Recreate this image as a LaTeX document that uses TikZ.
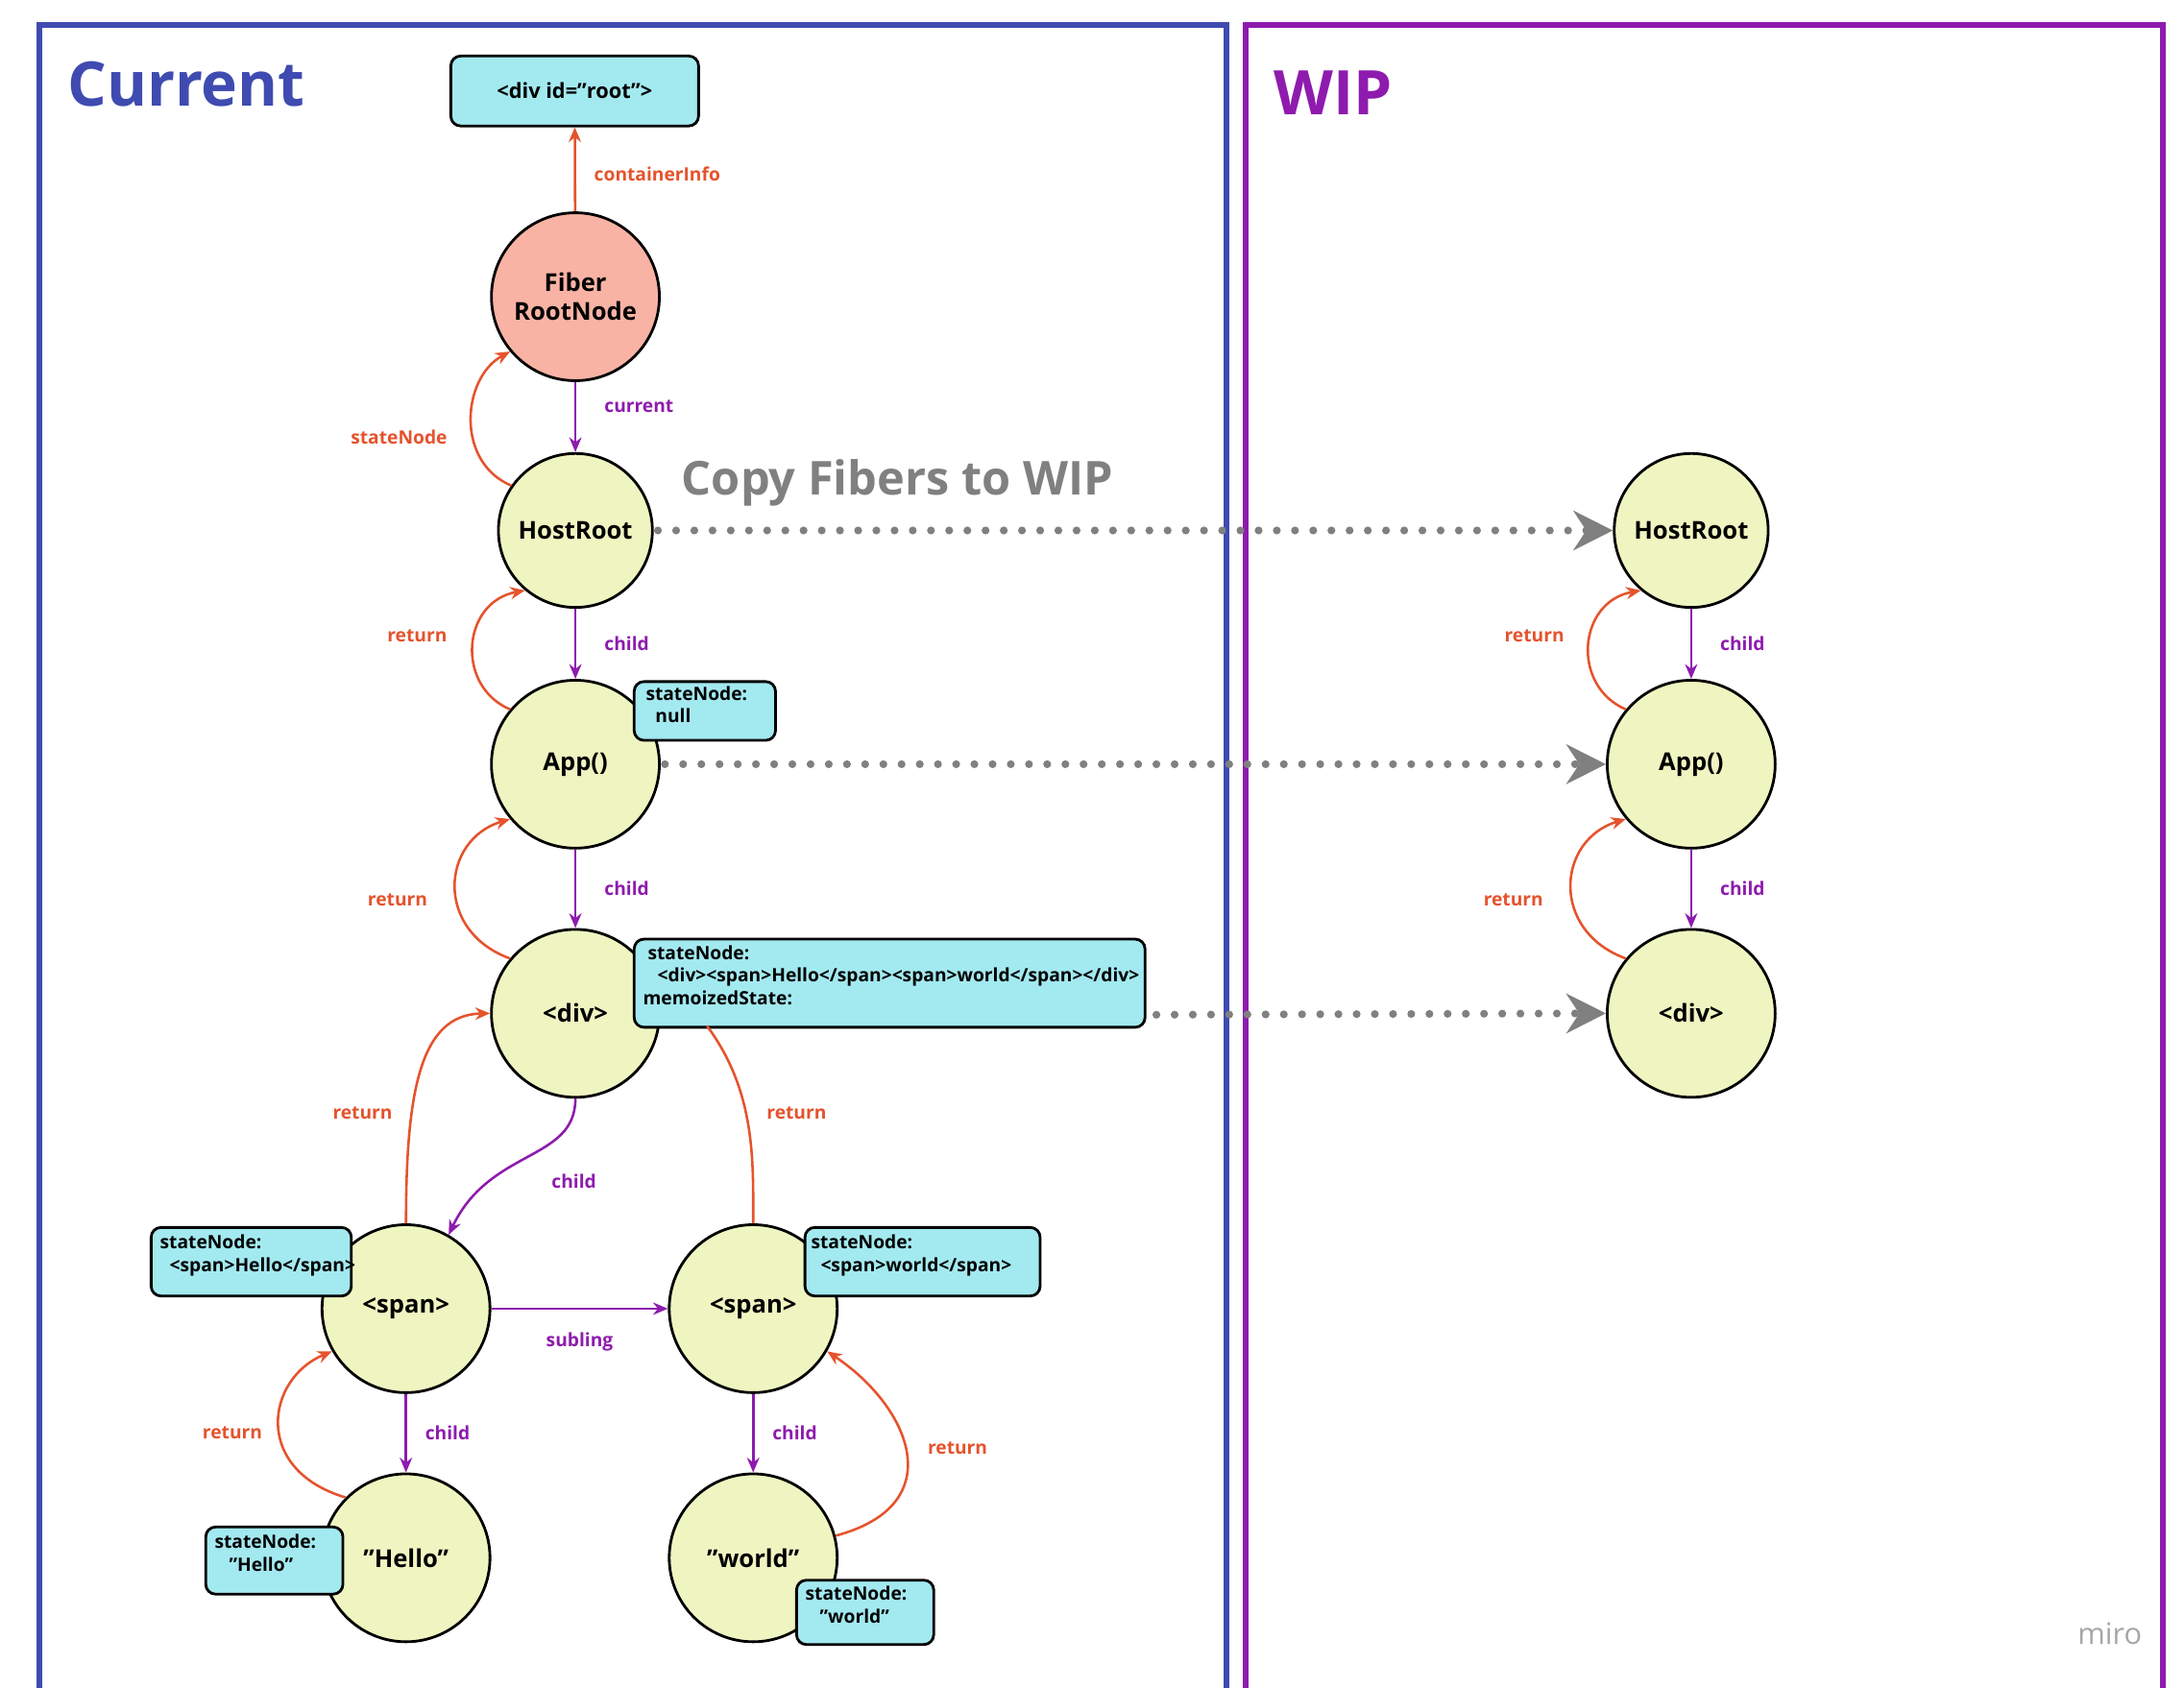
\documentclass[tikz,border=0pt]{standalone}
\usepackage{fontspec}
\setmainfont{Open Sans}
\usetikzlibrary{arrows.meta}
\definecolor{cblue}{HTML}{3F4BB0}
\definecolor{cpurp}{HTML}{8E1BAE}
\definecolor{cred}{HTML}{E5532D}
\definecolor{ccyan}{HTML}{A3E9F0}
\definecolor{cpink}{HTML}{F8B3A5}
\definecolor{cyel}{HTML}{EFF5C1}
\definecolor{cgray}{HTML}{808080}
\newcommand{\dq}{\symbol{34}}
\begin{document}
\begin{tikzpicture}[x=0.02cm,y=-0.02cm,
  fib/.style={circle,draw=black,line width=1.1pt,fill=cyel,minimum size=2.4cm,inner sep=0pt,font=\bfseries\fontsize{10}{12}\selectfont,align=center},
  box/.style={rectangle,rounded corners=4pt,draw=black,line width=1.1pt,fill=ccyan,font=\bfseries\fontsize{7.5}{9}\selectfont,align=left,anchor=north west,inner sep=0pt},
  ch/.style={draw=cpurp,line width=1pt,-{Stealth[length=6pt,width=5pt]}},
  rt/.style={draw=cred,line width=1pt,-{Stealth[length=6pt,width=5pt]}},
  pl/.style={text=cpurp,font=\bfseries\fontsize{7.5}{9}\selectfont},
  rl/.style={text=cred,font=\bfseries\fontsize{7.5}{9}\selectfont},
  dots/.style={draw=cgray,line width=3.2pt,line cap=round,dash pattern=on 0pt off 7.4pt,-{Stealth[length=16pt,width=16pt,line cap=butt]}}]
\useasboundingbox[fill=white] (0,0) rectangle (1560,1206);
\draw[cblue,line width=2.3pt] (28,18) rectangle (876,1208);
\draw[cpurp,line width=2.3pt] (890,18) rectangle (1545,1208);
\node[text=cblue,font=\bfseries\fontsize{25}{28}\selectfont,anchor=west] (tc) at (42,60) {Current};
\node[text=cpurp,font=\bfseries\fontsize{25}{28}\selectfont,anchor=west] (tw) at (904,66) {WIP};
\node[text=cgray!70,font=\fontsize{12}{14}\selectfont] (miro) at (1507,1167) {miro};
\node[text=cgray,font=\bfseries\fontsize{19}{22}\selectfont] (copy) at (641,345) {Copy Fibers to WIP};

\node[box,minimum width=3.54cm,minimum height=1cm,anchor=center,align=center,font=\bfseries\fontsize{8.5}{10}\selectfont] (root) at (410.5,65) {<div id=\dq root\dq>};
\node[fib,fill=cpink] (frn) at (411,212) {Fiber\\RootNode};
\node[fib,minimum size=2.2cm] (hr) at (411,379) {HostRoot};
\node[fib] (app) at (411,546) {App()};
\node[fib] (div) at (411,724) {<div>};
\node[fib] (s1) at (290,935) {<span>};
\node[fib] (s2) at (538,935) {<span>};
\node[fib] (he) at (290,1113) {\dq Hello\dq};
\node[fib] (wo) at (538,1113) {\dq world\dq};
\node[fib,minimum size=2.2cm] (whr) at (1208,379) {HostRoot};
\node[fib] (wapp) at (1208,546) {App()};
\node[fib] (wdiv) at (1208,724) {<div>};

\node[box,minimum width=2.02cm,minimum height=0.84cm] (bnull) at (452,486) {};
\node[anchor=north west,font=\bfseries\fontsize{7.5}{9}\selectfont,align=left,inner sep=0pt] at (461,490) {stateNode:\\\ \ null};
\node[box,minimum width=7.3cm,minimum height=1.26cm] (bdiv) at (452,670) {};
\node[anchor=north west,font=\bfseries\fontsize{7.5}{9.2}\selectfont,align=left,inner sep=0pt] at (459,675) {\ stateNode:\\\ \ \ <div><span>Hello</span><span>world</span></div>\\memoizedState:};
\node[box,minimum width=2.86cm,minimum height=0.98cm] (bs1) at (107,876) {};
\node[anchor=north west,font=\bfseries\fontsize{7.5}{9.2}\selectfont,align=left,inner sep=0pt] at (114,882) {stateNode:\\\ \ <span>Hello</span>};
\node[box,minimum width=3.36cm,minimum height=0.98cm] (bs2) at (574,876) {};
\node[anchor=north west,font=\bfseries\fontsize{7.5}{9.2}\selectfont,align=left,inner sep=0pt] at (579,882) {stateNode:\\\ \ <span>world</span>};
\node[box,minimum width=1.96cm,minimum height=0.96cm] (bhe) at (146,1090) {};
\node[anchor=north west,font=\bfseries\fontsize{7.5}{9.2}\selectfont,align=left,inner sep=0pt] at (153,1096) {stateNode:\\\ \ \ \dq Hello\dq};
\node[box,minimum width=1.96cm,minimum height=0.92cm] (bwo) at (568,1128) {};
\node[anchor=north west,font=\bfseries\fontsize{7.5}{9.2}\selectfont,align=left,inner sep=0pt] at (575,1133) {stateNode:\\\ \ \ \dq world\dq};
\coordinate (dstart) at (826,725);

\draw[rt] (frn) -- (root) node[pos=0.45,right=4pt,rl]{containerInfo};
\draw[ch] (frn) -- (hr) node[pos=0.35,right=8pt,pl]{current};
\draw[rt] (hr.145) .. controls (325,330) and (330,270) .. (frn.-140);
\node[rl] at (285,312) {stateNode};
\draw[ch] (hr) -- (app) node[midway,right=8pt,pl]{child};
\draw[rt] (app.140) .. controls (325,490) and (330,430) .. (hr.-130);
\node[rl] at (298,454) {return};
\draw[ch] (app) -- (div) node[midway,right=8pt,pl]{child};
\draw[rt] (div.140) .. controls (310,665) and (315,600) .. (app.-140);
\node[rl] at (284,643) {return};
\draw[ch] (div.-90) .. controls (411,830) and (350,820) .. (s1.60);
\node[pl] at (410,844) {child};
\draw[rt] (s1.90) .. controls (290,780) and (300,725) .. (div.180);
\node[rl] at (259,795) {return};
\draw[cred,line width=1pt] (505,733) .. controls (540,780) and (538,830) .. (s2.90);
\node[rl] at (569,795) {return};
\draw[ch] (s1) -- (s2) node[midway,below=6pt,pl]{subling};
\draw[ch] (s1) -- (he) node[midway,right=4pt,pl]{child};
\draw[rt] (he.135) .. controls (180,1050) and (190,985) .. (s1.-150);
\node[rl] at (166,1024) {return};
\draw[ch] (s2) -- (wo) node[midway,right=4pt,pl]{child};
\draw[rt] (wo.15) .. controls (680,1075) and (650,1005) .. (s2.-30);
\node[rl] at (684,1035) {return};
\draw[ch] (whr) -- (wapp) node[midway,right=8pt,pl]{child};
\draw[rt] (wapp.140) .. controls (1122,490) and (1127,430) .. (whr.-130);
\node[rl] at (1096,454) {return};
\draw[ch] (wapp) -- (wdiv) node[midway,right=8pt,pl]{child};
\draw[rt] (wdiv.140) .. controls (1107,665) and (1112,600) .. (wapp.-140);
\node[rl] at (1081,643) {return};

\draw[dots] (hr.east) ++(3,0) -- (whr.west);
\draw[dots] (app.east) ++(3,0) -- (wapp.west);
\draw[dots] (dstart) -- (wdiv.west);
\end{tikzpicture}
\end{document}
